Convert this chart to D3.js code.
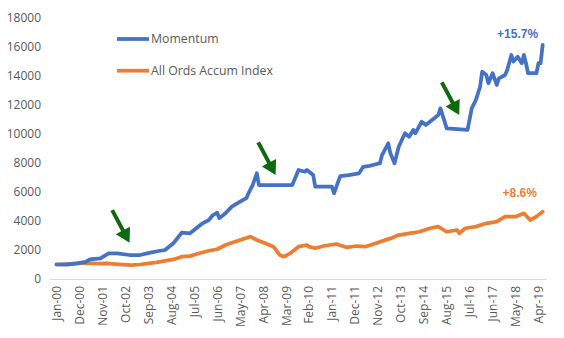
<!DOCTYPE html>
<html><head><meta charset="utf-8">
<script src="https://cdn.jsdelivr.net/npm/d3@7"></script>
<style>
html,body{margin:0;padding:0;background:#fff;}
svg{display:block;font-family:"Open Sans",sans-serif;}
</style></head>
<body>
<svg id="chart" width="564" height="338"></svg>
<script>
// ---- data ----
const momDates = ["2000-01","2000-06","2000-11","2001-03","2001-05","2001-10","2001-12","2002-02","2002-06","2002-12","2003-05","2003-10","2004-02","2004-05","2004-09","2005-01","2005-05","2005-08","2005-11","2006-02","2006-04","2006-06","2006-07","2006-08","2006-10","2007-01","2007-05","2007-08","2007-09","2007-11","2008-01","2008-02","2009-06","2009-09","2009-12","2010-01","2010-04","2010-05","2011-01","2011-02","2011-04","2011-05","2011-09","2012-02","2012-04","2012-07","2012-12","2013-01","2013-04","2013-05","2013-07","2013-09","2013-12","2014-02","2014-04","2014-05","2014-08","2014-10","2015-01","2015-04","2015-05","2015-07","2015-08","2016-06","2016-08","2016-10","2016-12","2017-01","2017-03","2017-04","2017-06","2017-08","2017-09","2017-12","2018-01","2018-03","2018-04","2018-06","2018-08","2018-09","2018-10","2018-11","2019-03","2019-04","2019-05","2019-06"];
const momValues = [1000,990,1080,1180,1360,1430,1600,1770,1770,1655,1655,1815,1930,2000,2460,3190,3150,3500,3840,4070,4410,4570,4200,4300,4530,4990,5330,5570,5910,6480,7290,6480,6480,7520,7400,7520,7170,6370,6370,5910,6710,7100,7170,7290,7740,7800,7980,8550,9360,8670,7980,9120,10050,9810,10280,10050,10850,10620,10970,11310,11770,10850,10390,10280,11770,12350,13260,14300,14070,13500,14190,13380,13840,14070,14410,15450,14990,15330,14880,15450,14880,14190,14190,14880,14880,16140];

const ordDates = ["2000-01","2000-05","2000-09","2001-01","2001-05","2001-09","2002-01","2002-05","2002-09","2003-01","2003-05","2003-09","2004-01","2004-05","2004-09","2005-01","2005-05","2005-09","2006-02","2006-06","2006-10","2007-01","2007-05","2007-10","2008-01","2008-05","2008-09","2008-12","2009-02","2009-05","2009-09","2010-01","2010-02","2010-05","2010-09","2011-03","2011-08","2012-01","2012-05","2012-10","2013-05","2013-09","2014-02","2014-07","2014-12","2015-04","2015-08","2016-01","2016-02","2016-05","2016-10","2017-03","2017-08","2017-12","2018-05","2018-09","2018-12","2019-03","2019-06"];
const ordValues = [1000,1030,1060,1090,1100,1060,1080,1030,990,960,1000,1080,1150,1250,1350,1540,1580,1760,1950,2050,2345,2500,2690,2920,2690,2460,2230,1655,1540,1770,2230,2345,2230,2120,2275,2415,2185,2275,2230,2460,2800,3030,3150,3260,3500,3610,3260,3380,3150,3500,3610,3840,3950,4300,4300,4530,4070,4300,4640];

const tickLabels = ["Jan-00","Dec-00","Nov-01","Oct-02","Sep-03","Aug-04","Jul-05","Jun-06","May-07","Apr-08","Mar-09","Feb-10","Jan-11","Dec-11","Nov-12","Oct-13","Sep-14","Aug-15","Jul-16","Jun-17","May-18","Apr-19"];
const yTicks = [0,2000,4000,6000,8000,10000,12000,14000,16000,18000];

const arrowDates = ["2002-12","2008-10","2016-02"];
const arrowValues = [2500,7170,11310];

const endLabels = ["+15.7%","+8.6%"];
const endLabelDates = ["2018-06","2018-07"];
const endLabelValues = [16620,5630];
const seriesNames = ["Momentum","All Ords Accum Index"];

// ---- helpers ----
const mIdx = s => { const [y,m] = s.split("-").map(Number); return (y-2000)*12 + (m-1); };
const months = ["Jan","Feb","Mar","Apr","May","Jun","Jul","Aug","Sep","Oct","Nov","Dec"];
const lblIdx = l => { const [mo,yy] = l.split("-"); return (2000+ +yy - 2000)*12 + months.indexOf(mo); };

const BLUE = "#4472C4", ORANGE = "#ED7D31", GREEN = "#0E6A0E", GREY = "#595959";

const svg = d3.select("#chart");
const x = d3.scaleLinear().domain([0,231]).range([56.5,538.5]);
const y = d3.scaleLinear().domain([0,18000]).range([279,18]);

// x axis line
svg.append("line").attr("x1",50).attr("x2",547).attr("y1",y(0)+0.5).attr("y2",y(0)+0.5)
  .attr("stroke","#d9d9d9").attr("stroke-width",1);

// y tick labels
svg.append("g").selectAll("text").data(yTicks).join("text")
  .attr("x",41).attr("y",d=>y(d)+4.3).attr("text-anchor","end")
  .attr("font-size",12).attr("fill",GREY).text(d=>d);

// x tick labels (rotated)
svg.append("g").selectAll("text").data(tickLabels).join("text")
  .attr("transform",d=>`translate(${x(lblIdx(d))+4.5},${286}) rotate(-90)`)
  .attr("text-anchor","end").attr("font-size",12).attr("fill",GREY).text(d=>d);

// lines
const line = d3.line().x(d=>x(d[0])).y(d=>y(d[1]));
const ordData = ordDates.map((d,i)=>[mIdx(d),ordValues[i]]);
const momData = momDates.map((d,i)=>[mIdx(d),momValues[i]]);
svg.append("path").datum(ordData).attr("d",line).attr("fill","none")
  .attr("stroke",ORANGE).attr("stroke-width",3.75).attr("stroke-linejoin","round").attr("stroke-linecap","round");
svg.append("path").datum(momData).attr("d",line).attr("fill","none")
  .attr("stroke",BLUE).attr("stroke-width",3.75).attr("stroke-linejoin","round").attr("stroke-linecap","round");

// legend
const leg = svg.append("g");
[[BLUE,39,42.8],[ORANGE,70.7,74.5]].forEach((c,i)=>{
  leg.append("line").attr("x1",117).attr("x2",149).attr("y1",c[1]).attr("y2",c[1])
    .attr("stroke",c[0]).attr("stroke-width",3.75);
  leg.append("text").attr("x",151).attr("y",c[2]).attr("font-size",12.3).attr("fill",GREY).text(seriesNames[i]);
});

// end labels
svg.append("g").selectAll("text").data(endLabels).join("text")
  .attr("x",(d,i)=>x(mIdx(endLabelDates[i]))).attr("y",(d,i)=>y(endLabelValues[i]))
  .attr("text-anchor","middle").attr("font-size",12).attr("font-weight","bold")
  .attr("font-family","Liberation Sans, Arial, sans-serif")
  .attr("fill",(d,i)=>i===0?BLUE:ORANGE).text(d=>d);

// arrows
const ang = Math.atan2(32,17) * 180/Math.PI; // direction of arrows
svg.append("g").selectAll("path").data(arrowDates).join("path")
  .attr("transform",(d,i)=>`translate(${x(mIdx(d))},${y(arrowValues[i])}) rotate(${ang})`)
  .attr("d","M0,0 L-14,-8 L-14,-2 L-37,-2 L-37,2 L-14,2 L-14,8 Z")
  .attr("fill",GREEN);
</script>
</body></html>
